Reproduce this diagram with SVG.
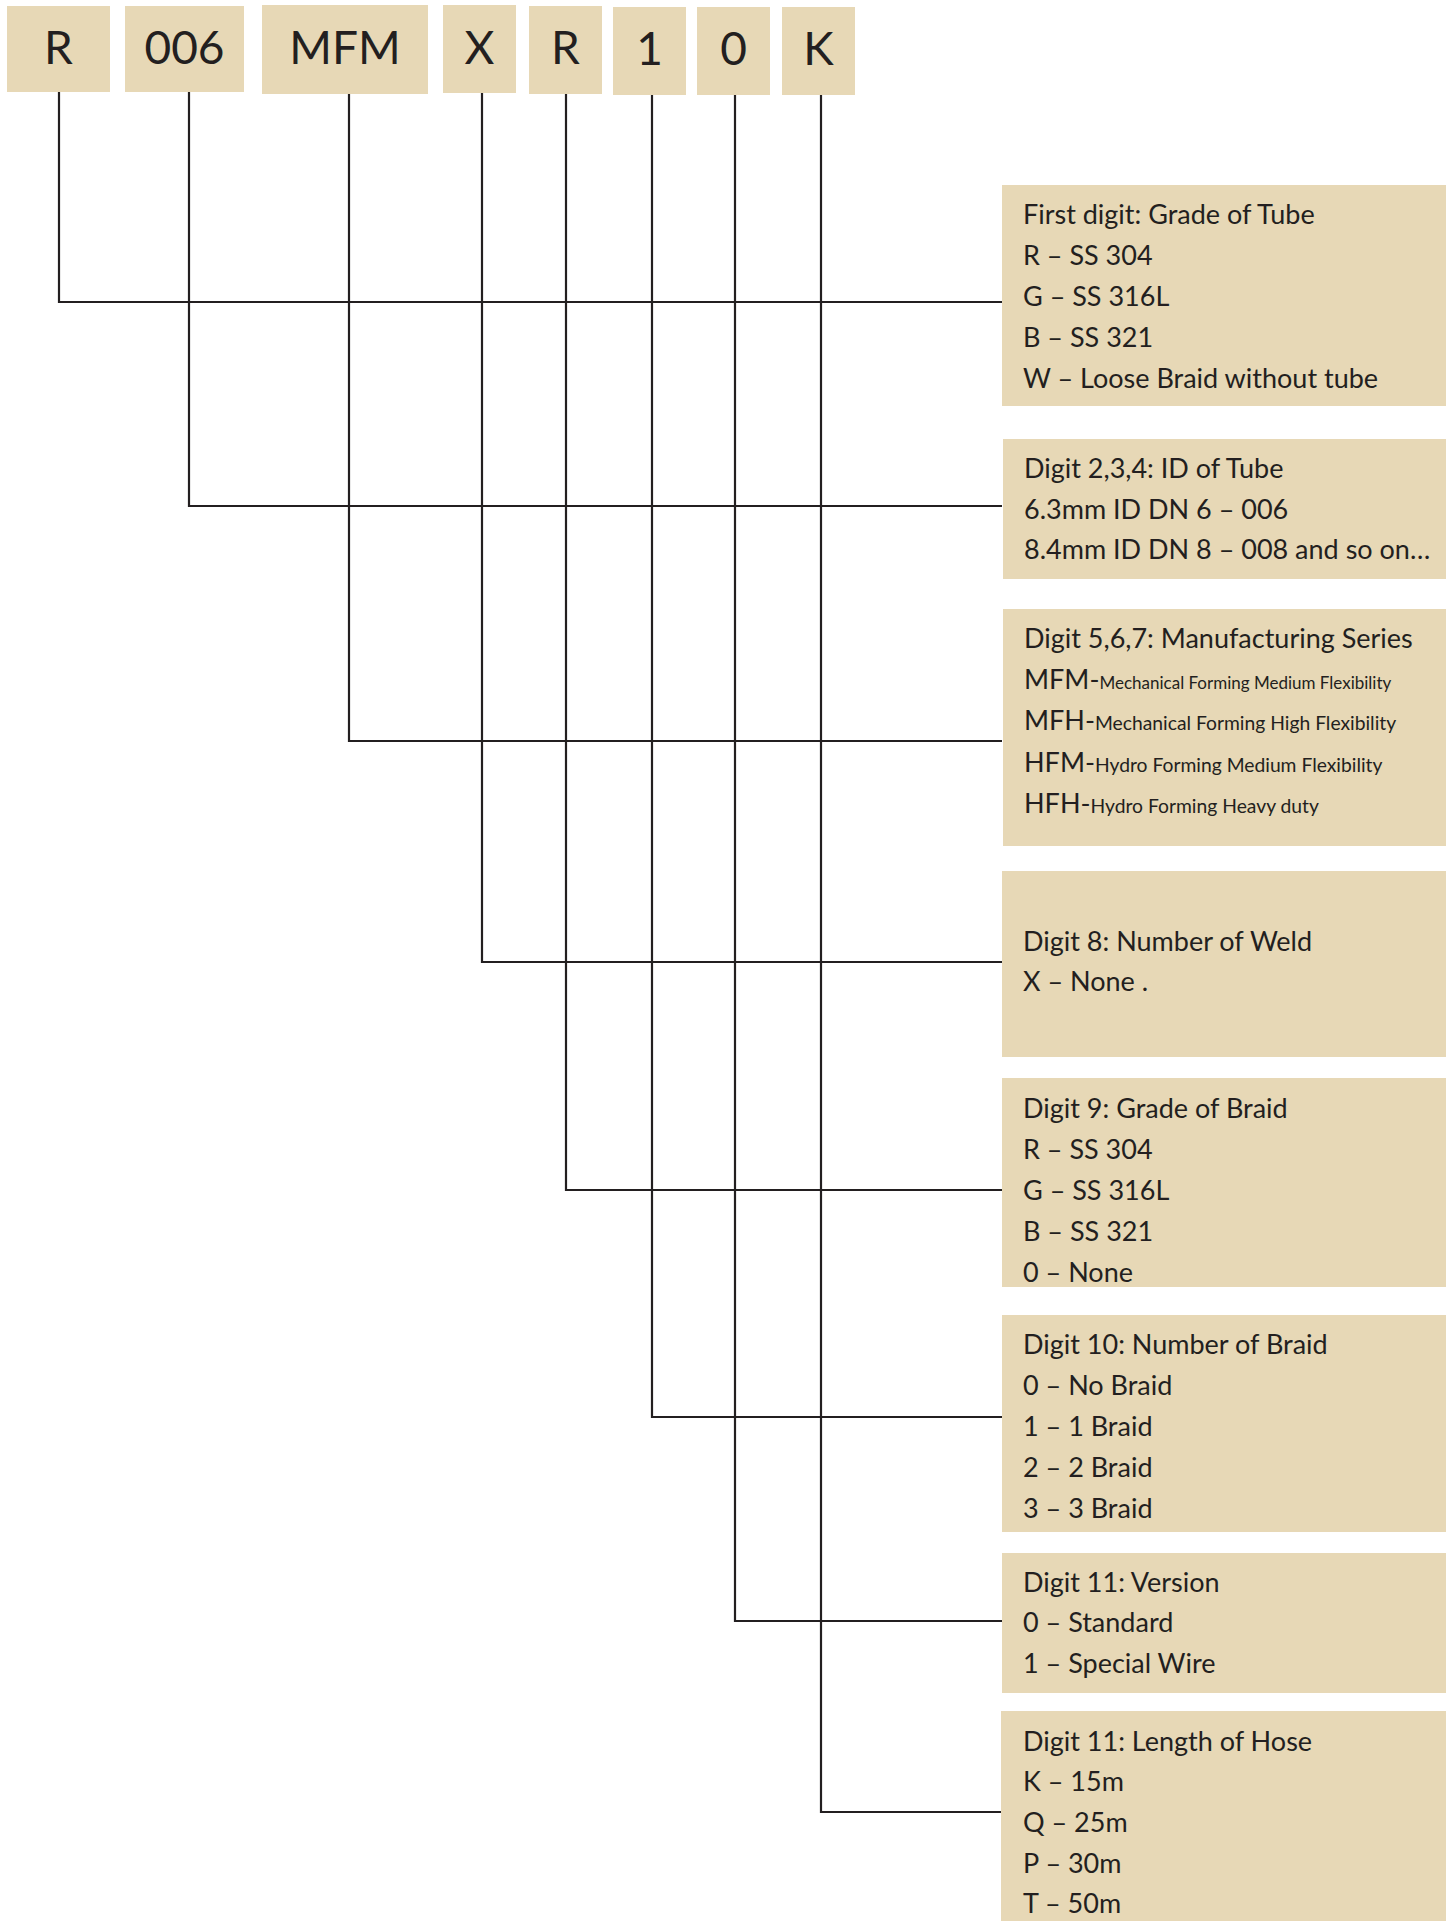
<svg xmlns="http://www.w3.org/2000/svg" width="1450" height="1921" viewBox="0 0 1450 1921">
<style>
.box{fill:#e7d8b6}
.code{font-family:Lato,"Open Sans",sans-serif;font-size:46px;fill:#231f20;text-anchor:middle}
.t{font-family:Lato,"Open Sans",sans-serif;font-size:27px;fill:#231f20}
.s1{font-size:17px}
.s2{font-size:19.3px}
.ln{stroke:#231f20;stroke-width:2.2;fill:none}
</style>
<rect width="1450" height="1921" fill="#ffffff"/>
<g id="connectors">
<path class="ln" d="M59 92 V302 H1002"/>
<path class="ln" d="M189 92 V506 H1002"/>
<path class="ln" d="M349 94 V741 H1002"/>
<path class="ln" d="M482 93 V962 H1002"/>
<path class="ln" d="M566 94 V1190 H1002"/>
<path class="ln" d="M652 95 V1417 H1002"/>
<path class="ln" d="M735 95 V1621 H1002"/>
<path class="ln" d="M821 95 V1812 H1002"/>
</g>
<g id="code-R"><rect class="box" x="7" y="6" width="103" height="86"/><text class="code" x="58.5" y="64">R</text></g>
<g id="code-006"><rect class="box" x="125" y="6" width="119" height="86"/><text class="code" x="184.5" y="64">006</text></g>
<g id="code-MFM"><rect class="box" x="262" y="5" width="166" height="89"/><text class="code" x="345" y="64">MFM</text></g>
<g id="code-X"><rect class="box" x="443" y="5" width="73" height="88"/><text class="code" x="479.5" y="64">X</text></g>
<g id="code-R2"><rect class="box" x="529" y="6" width="73" height="88"/><text class="code" x="565.5" y="64">R</text></g>
<g id="code-1"><rect class="box" x="613" y="7" width="73" height="88"/><text class="code" x="649.5" y="65">1</text></g>
<g id="code-0"><rect class="box" x="697" y="7" width="73" height="88"/><text class="code" x="733.5" y="65">0</text></g>
<g id="code-K"><rect class="box" x="782" y="7" width="73" height="88"/><text class="code" x="818.5" y="65">K</text></g>

<g id="panel-1"><rect class="box" x="1002" y="185" width="444" height="221"/>
<text class="t" x="1023" y="224">First digit: Grade of Tube</text>
<text class="t" x="1023" y="265">R – SS 304</text>
<text class="t" x="1023" y="306">G – SS 316L</text>
<text class="t" x="1023" y="347">B – SS 321</text>
<text class="t" x="1023" y="388">W – Loose Braid without tube</text></g>

<g id="panel-2"><rect class="box" x="1003" y="439" width="443" height="140"/>
<text class="t" x="1024" y="478">Digit 2,3,4: ID of Tube</text>
<text class="t" x="1024" y="519">6.3mm ID DN 6 – 006</text>
<text class="t" x="1024" y="559">8.4mm ID DN 8 – 008 and so on…</text></g>

<g id="panel-3"><rect class="box" x="1003" y="609" width="443" height="237"/>
<text class="t" x="1024" y="648">Digit 5,6,7: Manufacturing Series</text>
<text class="t" x="1024" y="689">MFM-<tspan class="s1">Mechanical Forming Medium Flexibility</tspan></text>
<text class="t" x="1024" y="730">MFH-<tspan class="s2">Mechanical Forming High Flexibility</tspan></text>
<text class="t" x="1024" y="772">HFM-<tspan class="s2">Hydro Forming Medium Flexibility</tspan></text>
<text class="t" x="1024" y="813">HFH-<tspan class="s2">Hydro Forming Heavy duty</tspan></text></g>

<g id="panel-4"><rect class="box" x="1002" y="871" width="444" height="186"/>
<text class="t" x="1023" y="951">Digit 8: Number of Weld</text>
<text class="t" x="1023" y="991">X – None .</text></g>

<g id="panel-5"><rect class="box" x="1002" y="1078" width="444" height="209"/>
<text class="t" x="1023" y="1118">Digit 9: Grade of Braid</text>
<text class="t" x="1023" y="1159">R – SS 304</text>
<text class="t" x="1023" y="1200">G – SS 316L</text>
<text class="t" x="1023" y="1241">B – SS 321</text>
<text class="t" x="1023" y="1282">0 – None</text></g>

<g id="panel-6"><rect class="box" x="1002" y="1315" width="444" height="217"/>
<text class="t" x="1023" y="1354">Digit 10: Number of Braid</text>
<text class="t" x="1023" y="1395">0 – No Braid</text>
<text class="t" x="1023" y="1436">1 – 1 Braid</text>
<text class="t" x="1023" y="1477">2 – 2 Braid</text>
<text class="t" x="1023" y="1518">3 – 3 Braid</text></g>

<g id="panel-7"><rect class="box" x="1002" y="1553" width="444" height="140"/>
<text class="t" x="1023" y="1592">Digit 11: Version</text>
<text class="t" x="1023" y="1632">0 – Standard</text>
<text class="t" x="1023" y="1673">1 – Special Wire</text></g>

<g id="panel-8"><rect class="box" x="1001" y="1711" width="445" height="210"/>
<text class="t" x="1023" y="1751">Digit 11: Length of Hose</text>
<text class="t" x="1023" y="1791">K – 15m</text>
<text class="t" x="1023" y="1832">Q – 25m</text>
<text class="t" x="1023" y="1873">P – 30m</text>
<text class="t" x="1023" y="1913">T – 50m</text></g>
</svg>
